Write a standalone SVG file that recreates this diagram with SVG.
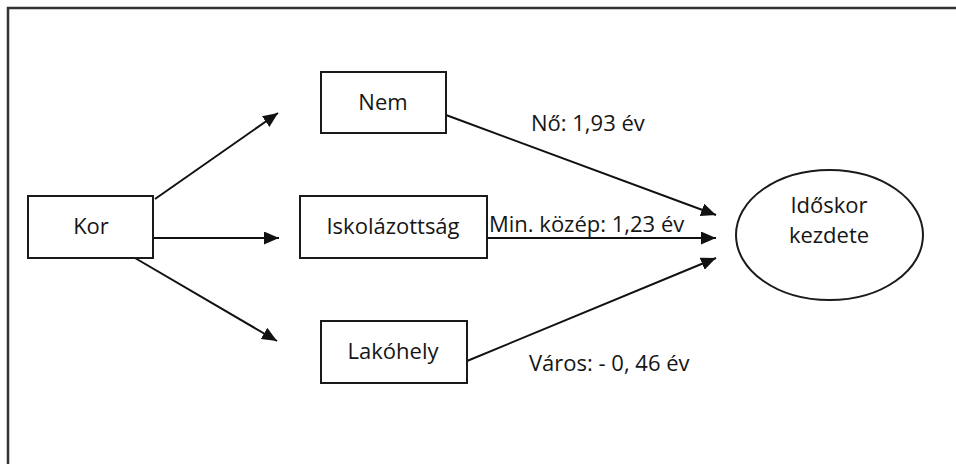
<svg xmlns="http://www.w3.org/2000/svg" width="956" height="464" viewBox="0 0 956 464">
<defs>
<style>
.box{fill:#fff;stroke:#1a1a1a;stroke-width:2}
.lbl{font-family:"Open Sans","Liberation Sans",sans-serif;font-size:22px;fill:#151515}
.mid{text-anchor:middle}
.edge{stroke:#111;stroke-width:2;fill:none;marker-end:url(#ah)}
</style>
<marker id="ah" markerUnits="userSpaceOnUse" markerWidth="16" markerHeight="14" refX="15" refY="6.5" orient="auto">
<path d="M0,0 L15,6.5 L0,13 z" fill="#111"/>
</marker>
</defs>
<rect width="956" height="464" fill="#fff"/>
<path d="M8,464 L8,8 L956,8" fill="none" stroke="#333" stroke-width="2.5"/>
<g id="connectors">
<line class="edge" x1="155" y1="199" x2="278" y2="113"/>
<line class="edge" x1="153" y1="238" x2="279" y2="238"/>
<line class="edge" x1="135" y1="258" x2="277" y2="341"/>
<line class="edge" x1="446" y1="115" x2="716" y2="215"/>
<line class="edge" x1="487" y1="238" x2="716" y2="238"/>
<line class="edge" x1="467" y1="361" x2="716" y2="258"/>
</g>
<g id="kor">
<rect class="box" x="28" y="196" width="125" height="62"/>
<text class="lbl mid" x="91" y="234">Kor</text>
</g>
<g id="nem">
<rect class="box" x="321" y="72" width="125" height="61"/>
<text class="lbl mid" x="383" y="110">Nem</text>
</g>
<g id="iskolazottsag">
<rect class="box" x="300" y="196" width="187" height="62"/>
<text class="lbl mid" x="393" y="234">Iskolázottság</text>
</g>
<g id="lakohely">
<rect class="box" x="321" y="321" width="146" height="62"/>
<text class="lbl mid" x="393" y="359">Lakóhely</text>
</g>
<g id="idoskor">
<ellipse class="box" cx="829.5" cy="235" rx="93.5" ry="65"/>
<text class="lbl mid" x="829" y="213">Időskor</text>
<text class="lbl mid" x="829" y="243">kezdete</text>
</g>
<g id="labels">
<text class="lbl" x="531" y="131">Nő: 1,93 év</text>
<text class="lbl" x="489" y="232">Min. közép: 1,23 év</text>
<text class="lbl" x="529" y="371">Város: - 0, 46 év</text>
</g>
</svg>
